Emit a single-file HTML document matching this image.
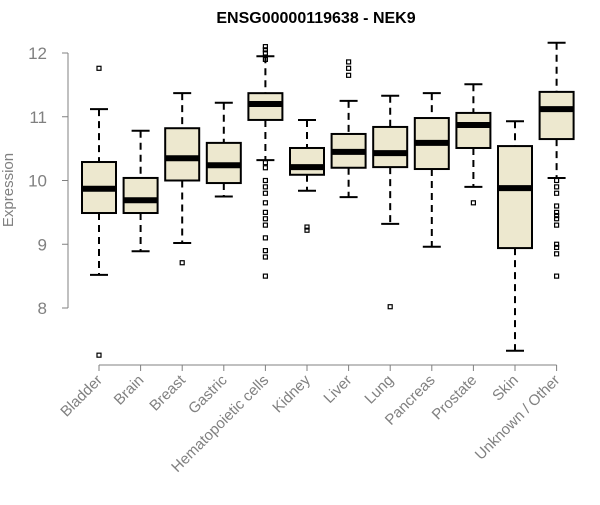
<!DOCTYPE html>
<html><head><meta charset="utf-8"><style>
body{margin:0;background:#fff;}
svg text{font-family:"Liberation Sans",sans-serif;}
</style></head><body>
<svg id="chart" width="600" height="500"></svg>
<script>
const categories=["Bladder","Brain","Breast","Gastric","Hematopoietic cells","Kidney","Liver","Lung","Pancreas","Prostate","Skin","Unknown / Other"];
const whiskerHigh=[11.12,10.78,11.37,11.22,11.95,10.95,11.25,11.33,11.37,11.51,10.93,12.16];
const q3=[10.29,10.04,10.82,10.59,11.37,10.51,10.73,10.84,10.98,11.06,10.54,11.39];
const medians=[9.87,9.69,10.35,10.24,11.2,10.21,10.45,10.43,10.59,10.87,9.88,11.12];
const q1=[9.49,9.49,10.0,9.96,10.95,10.09,10.2,10.21,10.18,10.51,8.94,10.65];
const whiskerLow=[8.52,8.89,9.02,9.75,10.32,9.84,9.74,9.32,8.96,9.9,7.33,10.04];
const outliers=[[11.76,7.26],[],[8.71],[],[12.1,12.05,12.0,11.9,10.28,10.2,10.0,9.9,9.8,9.65,9.5,9.4,9.3,9.1,8.9,8.8,8.5],[9.27,9.22],[11.86,11.76,11.65],[8.02],[],[9.65],[],[10.0,9.9,9.8,9.6,9.5,9.45,9.4,9.3,9.0,8.95,8.85,8.5]];
const yTicks=[8,9,10,11,12];
const title="ENSG00000119638 - NEK9";

const svg=document.getElementById('chart');
const NS="http://www.w3.org/2000/svg";
function y(v){return 53+(12-v)*63.75;}
function x(i){return 99+i*41.6;}
function mk(tag,a,parent){const e=document.createElementNS(NS,tag);for(const k in a)e.setAttribute(k,a[k]);(parent||svg).appendChild(e);return e;}

const t=mk('text',{x:316,y:23,'text-anchor':'middle','font-size':16,'font-weight':'bold',fill:'#000'});
t.textContent=title;



const yt=mk('text',{x:13,y:190,'text-anchor':'middle','font-size':15,fill:'#808080',transform:'rotate(-90 13 190)'});
yt.textContent="Expression";



const ya=mk('line',{x1:68,x2:68,y1:y(12),y2:y(8),stroke:'#808080'});


yTicks.forEach(v=>{
  mk('line',{x1:62,x2:68,y1:y(v),y2:y(v),stroke:'#808080'});
  const l=mk('text',{x:47,y:y(v)+6,'text-anchor':'end','font-size':17,fill:'#808080'});
  l.textContent=v;
  
  
});
const xa=mk('line',{x1:x(0),x2:x(11),y1:365,y2:365,stroke:'#808080'});



categories.forEach((c,i)=>{
  const cx=x(i),w=17;
  mk('line',{x1:cx,x2:cx,y1:365,y2:371,stroke:'#808080'});
  const l=mk('text',{x:cx+4,y:381,'text-anchor':'end','font-size':15,fill:'#808080',transform:`rotate(-45 ${cx+4} 381)`});
  l.textContent=c;
  
  
  const g=mk('g',{});
  
  
  mk('line',{x1:cx,x2:cx,y1:y(whiskerHigh[i]),y2:y(q3[i]),stroke:'#000','stroke-width':2,'stroke-dasharray':'7,5'},g);
  mk('line',{x1:cx,x2:cx,y1:y(q1[i]),y2:y(whiskerLow[i]),stroke:'#000','stroke-width':2,'stroke-dasharray':'7,5'},g);
  mk('line',{x1:cx-9,x2:cx+9,y1:y(whiskerHigh[i]),y2:y(whiskerHigh[i]),stroke:'#000','stroke-width':2},g);
  mk('line',{x1:cx-9,x2:cx+9,y1:y(whiskerLow[i]),y2:y(whiskerLow[i]),stroke:'#000','stroke-width':2},g);
  mk('rect',{x:cx-w,y:y(q3[i]),width:2*w,height:y(q1[i])-y(q3[i]),fill:'#EDE8CF',stroke:'#000','stroke-width':2},g);
  mk('line',{x1:cx-w,x2:cx+w,y1:y(medians[i]),y2:y(medians[i]),stroke:'#000','stroke-width':6},g);
  outliers[i].forEach(v=>{
    mk('rect',{x:cx-2,y:y(v)-2,width:4,height:4,fill:'none',stroke:'#000','stroke-width':1.2},g);
  });
});
</script>
</body></html>
